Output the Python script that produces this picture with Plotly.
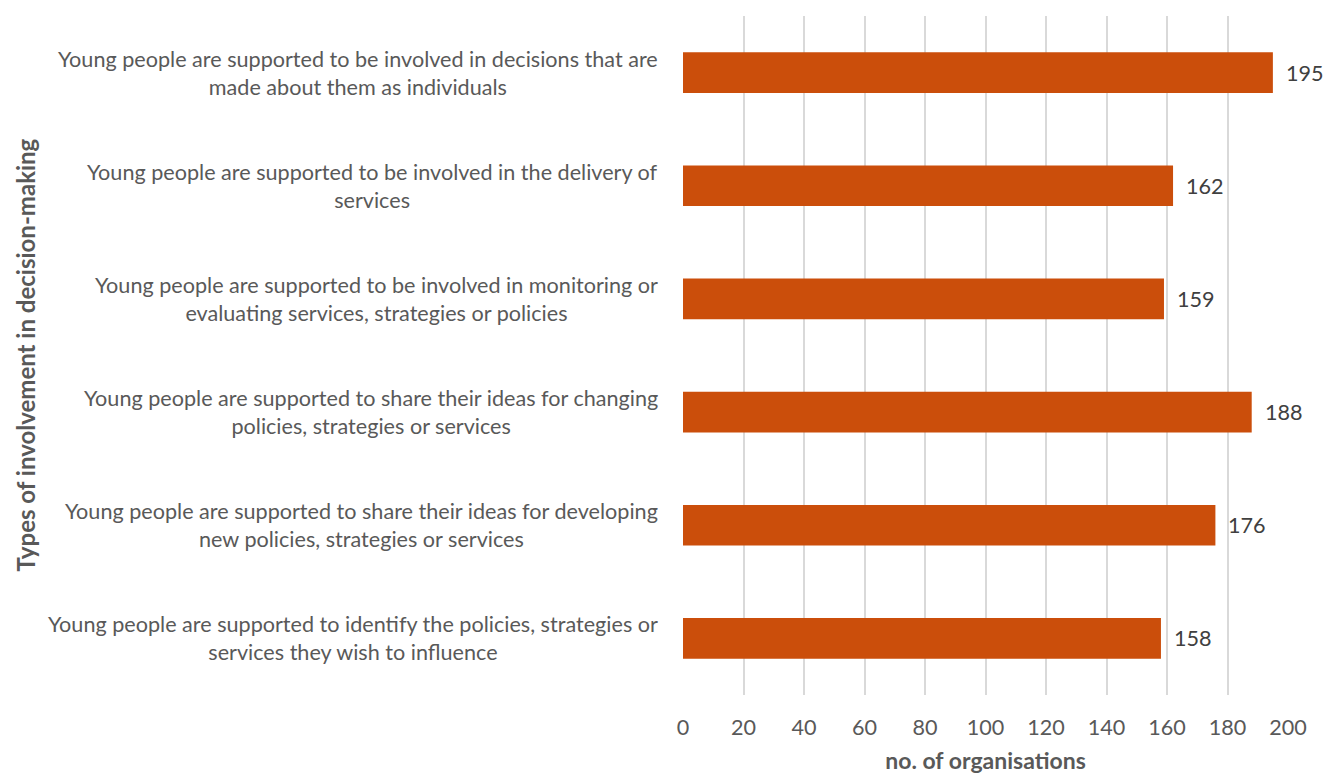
import plotly.graph_objects as go

categories = [
    "Young people are supported to identify the policies, strategies or<br>services they wish to influence",
    "Young people are supported to share their ideas for developing<br>new policies, strategies or services",
    "Young people are supported to share their ideas for changing<br>policies, strategies or services",
    "Young people are supported to be involved in monitoring or<br>evaluating services, strategies or policies",
    "Young people are supported to be involved in the delivery of<br>services",
    "Young people are supported to be involved in decisions that are<br>made about them as individuals",
]
values = [158, 176, 188, 159, 162, 195]
x_ticks = [0, 20, 40, 60, 80, 100, 120, 140, 160, 180, 200]

FONT = "Lato"
LBL = 21.6
fig = go.Figure()
fig.add_trace(go.Bar(
    y=categories, x=values, orientation="h",
    marker=dict(color="#CB4E0B", line=dict(width=0)),
    width=0.36,
))

for c, v in zip(categories, values):
    fig.add_annotation(
        x=-0.038, xref="paper", y=c, yref="y", text=c, showarrow=False,
        xanchor="right", yanchor="middle", align="center",
        font=dict(family=FONT, size=LBL, color="#595959"),
    )
    fig.add_annotation(
        x=v, xref="x", y=c, yref="y", text=str(v), showarrow=False,
        xanchor="left", yanchor="middle", xshift=11,
        font=dict(family=FONT, size=LBL, color="#404040"),
    )

fig.update_layout(
    width=1326, height=774,
    margin=dict(l=683, r=38, t=16, b=79, autoexpand=False),
    plot_bgcolor="white", paper_bgcolor="white",
    showlegend=False,
    xaxis=dict(
        range=[0, 200], tickvals=x_ticks, showgrid=True, gridcolor="#D9D9D9", gridwidth=2,
        zeroline=False, showline=False, ticks="", automargin=False,
        tickfont=dict(family=FONT, size=LBL, color="#595959"),
        ticklabelstandoff=17,
        title=dict(text="<b>no. of organisations</b>", font=dict(family=FONT, size=23, color="#595959"), standoff=18),
    ),
    yaxis=dict(showticklabels=False, showgrid=False, zeroline=False, showline=False, ticks="", automargin=False),
)
fig.add_annotation(
    x=0, xref="paper", y=0.5, yref="paper", xshift=-658, xanchor="center",
    text="<b>Types of involvement in decision-making</b>",
    showarrow=False, textangle=-90, font=dict(family=FONT, size=24, color="#595959"),
)
fig.write_html("out.html", config={"displayModeBar": False},
               post_script="document.body.style.margin='0';document.body.style.overflow='hidden';")
